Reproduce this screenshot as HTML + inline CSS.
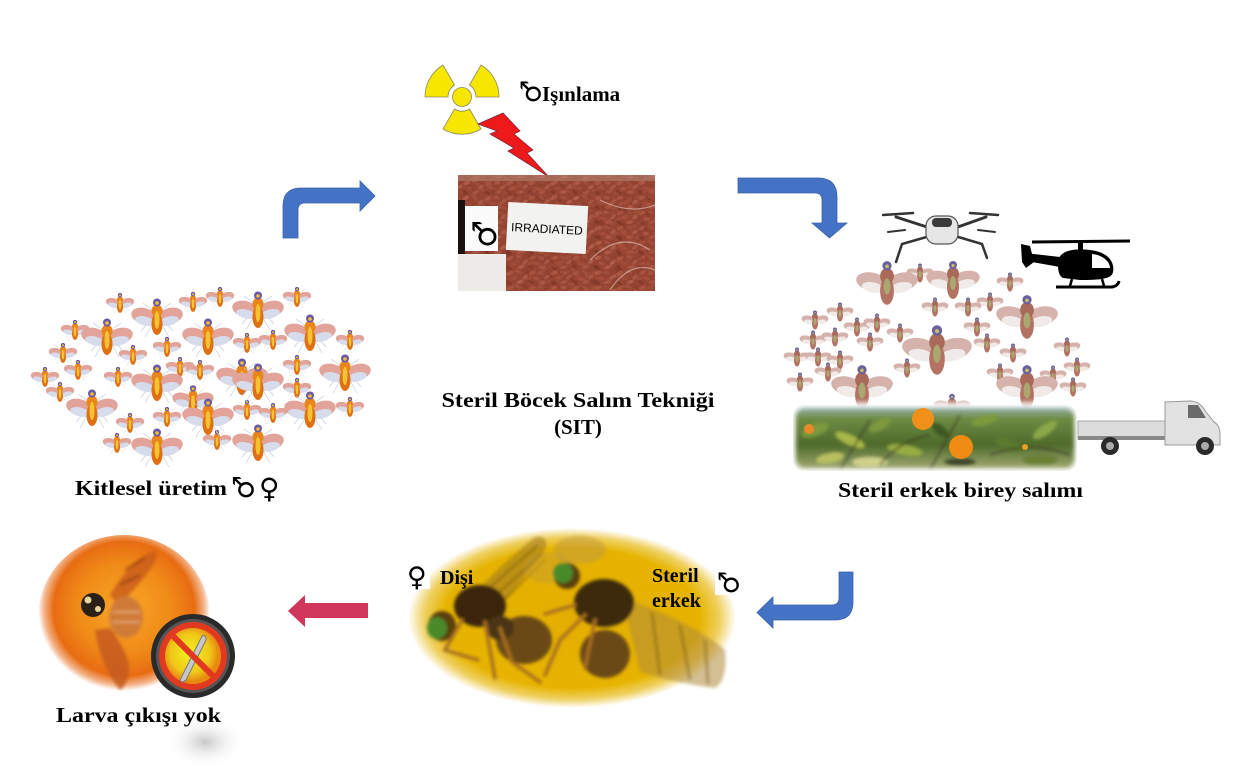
<!DOCTYPE html>
<html><head><meta charset="utf-8"><style>
html,body{margin:0;padding:0;background:#fff;}
svg{display:block;}
text{font-family:"Liberation Serif",serif;font-weight:bold;fill:#000;}
.sym{font-family:"DejaVu Sans",sans-serif;font-weight:normal;}
</style></head><body>
<svg width="1240" height="784" viewBox="0 0 1240 784" xmlns="http://www.w3.org/2000/svg">
<defs>
  <g id="flyA">
    <g stroke="#b8c8e0" stroke-width="0.6" fill="none">
      <path d="M-4,0 L-16,14 M4,0 L16,14 M-4,6 L-12,20 M4,6 L12,20 M-3,-6 L-14,-14 M3,-6 L14,-14"/>
    </g>
    <ellipse cx="-13" cy="-1" rx="13" ry="8" transform="rotate(14 -13 -1)" fill="#e2a49a"/>
    <ellipse cx="-12" cy="4" rx="10" ry="4.5" transform="rotate(14 -12 4)" fill="#d6dcec"/>
    <ellipse cx="13" cy="-1" rx="13" ry="8" transform="rotate(-14 13 -1)" fill="#e2a49a"/>
    <ellipse cx="12" cy="4" rx="10" ry="4.5" transform="rotate(-14 12 4)" fill="#d6dcec"/>
    <ellipse cx="0" cy="7" rx="5.5" ry="11" fill="#df7014"/>
    <ellipse cx="0" cy="-6" rx="5.5" ry="6.5" fill="#e8861c"/>
    <ellipse cx="0" cy="3" rx="2.5" ry="9" fill="#f4c232"/>
    <circle cx="0" cy="-14.5" r="4" fill="#6a58a8"/>
    <circle cx="0" cy="-14" r="1.8" fill="#f0c030"/>
  </g>
  <g id="flyB">
    <ellipse cx="-13" cy="-1" rx="14" ry="8" transform="rotate(12 -13 -1)" fill="#d6b2ac"/>
    <ellipse cx="-12" cy="4" rx="10" ry="4.5" transform="rotate(12 -12 4)" fill="#f0eae8"/>
    <ellipse cx="13" cy="-1" rx="14" ry="8" transform="rotate(-12 13 -1)" fill="#d6b2ac"/>
    <ellipse cx="12" cy="4" rx="10" ry="4.5" transform="rotate(-12 12 4)" fill="#f0eae8"/>
    <ellipse cx="0" cy="7" rx="6" ry="12" fill="#b47262"/>
    <ellipse cx="0" cy="-6" rx="6" ry="7" fill="#aa6a5a"/>
    <ellipse cx="0" cy="3" rx="3" ry="7" fill="#a8a870"/>
    <circle cx="0" cy="-15" r="4" fill="#6a60a0"/>
    <circle cx="0" cy="-14.5" r="1.6" fill="#c8c060"/>
  </g>
  <pattern id="beans" width="22" height="15" patternUnits="userSpaceOnUse">
    <rect width="22" height="15" fill="#93432f"/>
    <ellipse cx="4" cy="3" rx="3.6" ry="1.8" transform="rotate(-20 4 3)" fill="#b25c48"/>
    <ellipse cx="13" cy="2.5" rx="3.4" ry="1.7" transform="rotate(25 13 2.5)" fill="#a25040"/>
    <ellipse cx="19" cy="7" rx="3.4" ry="1.7" transform="rotate(-40 19 7)" fill="#b46050"/>
    <ellipse cx="8" cy="8.5" rx="3.6" ry="1.8" transform="rotate(15 8 8.5)" fill="#a84e3e"/>
    <ellipse cx="3" cy="12.5" rx="3.2" ry="1.6" transform="rotate(35 3 12.5)" fill="#7c3224"/>
    <ellipse cx="14" cy="12" rx="3.6" ry="1.8" transform="rotate(-10 14 12)" fill="#b05a48"/>
  </pattern>
  <pattern id="beans2" href="#beans" patternTransform="translate(7 5) rotate(8)"/>
  <radialGradient id="yel" cx="0.5" cy="0.5" r="0.5">
    <stop offset="0" stop-color="#e4ae00"/>
    <stop offset="0.78" stop-color="#e6b400"/>
    <stop offset="0.9" stop-color="#efd060"/>
    <stop offset="1" stop-color="#ffffff"/>
  </radialGradient>
  <radialGradient id="org" cx="0.5" cy="0.45" r="0.5">
    <stop offset="0" stop-color="#f8a826"/>
    <stop offset="0.55" stop-color="#f08a18"/>
    <stop offset="0.82" stop-color="#e86c12"/>
    <stop offset="0.93" stop-color="#f4b48a"/>
    <stop offset="1" stop-color="#ffffff"/>
  </radialGradient>
  <radialGradient id="nosign" cx="0.45" cy="0.45" r="0.5">
    <stop offset="0" stop-color="#f4f020"/>
    <stop offset="0.7" stop-color="#f0c818"/>
    <stop offset="1" stop-color="#e88a10"/>
  </radialGradient>
  <radialGradient id="shadow" cx="0.5" cy="0.5" r="0.5">
    <stop offset="0" stop-color="#c8c8c8"/>
    <stop offset="1" stop-color="#ffffff" stop-opacity="0"/>
  </radialGradient>
  <linearGradient id="tree" x1="0" y1="0" x2="0" y2="1">
    <stop offset="0" stop-color="#a0bcc8"/>
    <stop offset="0.2" stop-color="#6e8c44"/>
    <stop offset="0.6" stop-color="#4e6a2a"/>
    <stop offset="1" stop-color="#a8b07a"/>
  </linearGradient>
  <filter id="soft" x="-10%" y="-10%" width="120%" height="120%"><feGaussianBlur stdDeviation="1.5"/></filter>
  <filter id="soft2" x="-10%" y="-10%" width="120%" height="120%"><feGaussianBlur stdDeviation="2.5"/></filter>
  <clipPath id="treeclip"><rect x="793" y="405" width="284" height="66" rx="12"/></clipPath>
</defs>

<rect width="1240" height="784" fill="#fff"/>

<!-- ===== Blue arrows ===== -->
<path d="M283,238 L283,206 Q283,188 301,188 L360,188 L360,181 L375,196 L360,211 L360,203 L305,203 Q298,203 298,210 L298,238 Z" fill="#4472c4" stroke="#3a62aa" stroke-width="0.8"/>
<path d="M738,178 L818,178 Q837,178 837,197 L837,223 L847,223 L829.5,238 L812,223 L822,223 L822,200 Q822,193 815,193 L738,193 Z" fill="#4472c4" stroke="#3a62aa" stroke-width="0.8"/>
<path d="M853,572 L853,602 Q853,620 835,620 L773,620 L773,628 L757,612.5 L773,597 L773,605 L832,605 Q839,605 839,598 L839,572 Z" fill="#4472c4" stroke="#3a62aa" stroke-width="0.8"/>
<path d="M368,603 L305,603 L305,595 L288,611 L305,627 L305,618 L368,618 Z" fill="#d0365a"/>

<!-- ===== Radiation & bolt ===== -->
<g fill="#f6e600" stroke="#8a8a60" stroke-width="0.8">
  <path d="M469.5,85 L481,65 A37,37 0 0 1 499,97 L476,97 A14,14 0 0 0 469.5,85 Z"/>
  <path d="M454.5,85 L443,65 A37,37 0 0 0 425,97 L448,97 A14,14 0 0 1 454.5,85 Z"/>
  <path d="M469.5,109 L481,129 A37,37 0 0 1 443,129 L454.5,109 A14,14 0 0 0 469.5,109 Z"/>
  <circle cx="462" cy="97" r="9.5"/>
</g>
<polygon points="478,124 503,113 520,131 514,134 533,150 527,153 549,177 508,151 514,148 490,134 497,131" fill="#ee1a1a" stroke="#7a2a40" stroke-width="0.8"/>
<text x="542" y="101" font-size="21">Işınlama</text>
<text class="sym" transform="translate(543,101) scale(-1,1)" font-size="27">♂</text>

<!-- ===== Bag photo ===== -->
<rect x="458" y="175" width="197" height="116" fill="url(#beans)"/>
<rect x="458" y="175" width="197" height="116" fill="url(#beans2)" opacity="0.35"/>
<rect x="458" y="175" width="197" height="6" fill="#b88474" opacity="0.6"/>
<path d="M600,200 Q630,215 655,205 M590,260 Q620,230 650,250 M610,290 Q630,260 655,270" stroke="#e8d0c8" stroke-width="1.2" fill="none" opacity="0.6"/>
<rect x="458" y="200" width="7" height="54" fill="#1a1210"/>
<rect x="458" y="254" width="48" height="37" fill="#ecebe8"/>
<rect x="465" y="206" width="33" height="45" fill="#fbfbfb"/>
<text class="sym" transform="translate(499,245) scale(-1,1)" font-size="32">♂</text>
<g transform="rotate(3 547 228)">
  <rect x="507" y="204" width="80" height="48" fill="#f2f2f0"/>
  <text x="547" y="233" font-size="12" text-anchor="middle" style="font-family:'Liberation Sans',sans-serif;font-weight:normal;">IRRADIATED</text>
</g>

<!-- ===== Left cluster ===== -->
<g>
  <use href="#flyA" transform="translate(120,303) scale(0.55)"/>
  <use href="#flyA" transform="translate(193,302) scale(0.55)"/>
  <use href="#flyA" transform="translate(220,297) scale(0.55)"/>
  <use href="#flyA" transform="translate(297,297) scale(0.55)"/>
  <use href="#flyA" transform="translate(75,330) scale(0.55)"/>
  <use href="#flyA" transform="translate(63,353) scale(0.55)"/>
  <use href="#flyA" transform="translate(133,355) scale(0.55)"/>
  <use href="#flyA" transform="translate(167,347) scale(0.55)"/>
  <use href="#flyA" transform="translate(247,343) scale(0.55)"/>
  <use href="#flyA" transform="translate(273,340) scale(0.55)"/>
  <use href="#flyA" transform="translate(350,340) scale(0.55)"/>
  <use href="#flyA" transform="translate(45,377) scale(0.55)"/>
  <use href="#flyA" transform="translate(78,370) scale(0.55)"/>
  <use href="#flyA" transform="translate(118,377) scale(0.55)"/>
  <use href="#flyA" transform="translate(180,367) scale(0.55)"/>
  <use href="#flyA" transform="translate(200,370) scale(0.55)"/>
  <use href="#flyA" transform="translate(297,365) scale(0.55)"/>
  <use href="#flyA" transform="translate(60,392) scale(0.55)"/>
  <use href="#flyA" transform="translate(297,388) scale(0.55)"/>
  <use href="#flyA" transform="translate(350,407) scale(0.55)"/>
  <use href="#flyA" transform="translate(130,423) scale(0.55)"/>
  <use href="#flyA" transform="translate(167,417) scale(0.55)"/>
  <use href="#flyA" transform="translate(247,410) scale(0.55)"/>
  <use href="#flyA" transform="translate(273,413) scale(0.55)"/>
  <use href="#flyA" transform="translate(117,443) scale(0.55)"/>
  <use href="#flyA" transform="translate(217,440) scale(0.55)"/>
  <use href="#flyA" transform="translate(193,400) scale(0.8)"/>
  <use href="#flyA" transform="translate(157,317)"/>
  <use href="#flyA" transform="translate(107,337)"/>
  <use href="#flyA" transform="translate(208,337)"/>
  <use href="#flyA" transform="translate(258,310)"/>
  <use href="#flyA" transform="translate(310,333)"/>
  <use href="#flyA" transform="translate(157,383)"/>
  <use href="#flyA" transform="translate(242,377)"/>
  <use href="#flyA" transform="translate(258,382)"/>
  <use href="#flyA" transform="translate(345,373)"/>
  <use href="#flyA" transform="translate(92,408)"/>
  <use href="#flyA" transform="translate(208,417)"/>
  <use href="#flyA" transform="translate(310,410)"/>
  <use href="#flyA" transform="translate(157,447)"/>
  <use href="#flyA" transform="translate(258,443)"/>
</g>
<text x="75" y="495" font-size="21" textLength="152" lengthAdjust="spacingAndGlyphs">Kitlesel üretim</text>
<text class="sym" transform="translate(256,497) scale(-1,1)" font-size="28">♂</text>
<text class="sym" x="259" y="498" font-size="28">♀</text>

<!-- ===== Center title ===== -->
<text x="578" y="407" font-size="21" text-anchor="middle" textLength="273" lengthAdjust="spacingAndGlyphs">Steril Böcek Salım Tekniği</text>
<text x="578" y="434" font-size="21" text-anchor="middle">(SIT)</text>

<!-- ===== Drone ===== -->
<g stroke="#333" stroke-linecap="round">
  <line x1="930" y1="228" x2="896" y2="217" stroke-width="3"/>
  <line x1="955" y1="228" x2="986" y2="217" stroke-width="3"/>
  <line x1="883" y1="215" x2="913" y2="213" stroke-width="2.5"/>
  <line x1="970" y1="213" x2="998" y2="215" stroke-width="2.5"/>
  <polyline points="930,236 902,244 896,262" fill="none" stroke-width="2.5"/>
  <polyline points="955,236 982,244 987,258" fill="none" stroke-width="2.5"/>
  <line x1="888" y1="232" x2="905" y2="230" stroke-width="2"/>
  <line x1="978" y1="230" x2="995" y2="232" stroke-width="2"/>
</g>
<rect x="926" y="216" width="32" height="28" rx="10" fill="#e6e6e6" stroke="#555" stroke-width="1.2"/>
<rect x="932" y="218" width="20" height="9" rx="4" fill="#3a3a3a"/>

<!-- ===== Helicopter ===== -->
<g fill="#000" stroke="#000">
  <line x1="1032" y1="242" x2="1130" y2="241" stroke-width="3"/>
  <rect x="1078" y="241" width="5" height="10" stroke="none"/>
  <path d="M1058,263 C1058,250 1075,248 1090,250 C1108,252 1115,262 1113,272 C1112,279 1100,280 1080,280 L1063,278 C1058,275 1058,269 1058,263 Z" stroke="none"/>
  <polygon points="1025,253 1060,257 1060,267 1032,262" stroke="none"/>
  <polygon points="1021,244 1030,246 1034,262 1026,268 1022,262" stroke="none"/>
  <line x1="1072" y1="279" x2="1070" y2="286" stroke-width="2.5"/>
  <line x1="1102" y1="279" x2="1104" y2="286" stroke-width="2.5"/>
  <path d="M1056,287 L1112,287 Q1118,286 1119,281" fill="none" stroke-width="3"/>
</g>
<path d="M1092,254 C1103,255 1110,262 1110,268 L1092,268 Z" fill="#fff"/>

<!-- ===== Right cluster ===== -->
<g>
  <use href="#flyB" transform="translate(920,273) scale(0.5)"/>
  <use href="#flyB" transform="translate(1010,282) scale(0.5)"/>
  <use href="#flyB" transform="translate(990,302) scale(0.5)"/>
  <use href="#flyB" transform="translate(968,307) scale(0.5)"/>
  <use href="#flyB" transform="translate(935,307) scale(0.5)"/>
  <use href="#flyB" transform="translate(840,312) scale(0.5)"/>
  <use href="#flyB" transform="translate(815,320) scale(0.5)"/>
  <use href="#flyB" transform="translate(857,327) scale(0.5)"/>
  <use href="#flyB" transform="translate(877,323) scale(0.5)"/>
  <use href="#flyB" transform="translate(900,333) scale(0.5)"/>
  <use href="#flyB" transform="translate(977,327) scale(0.5)"/>
  <use href="#flyB" transform="translate(813,340) scale(0.5)"/>
  <use href="#flyB" transform="translate(835,337) scale(0.5)"/>
  <use href="#flyB" transform="translate(870,342) scale(0.5)"/>
  <use href="#flyB" transform="translate(987,343) scale(0.5)"/>
  <use href="#flyB" transform="translate(1013,353) scale(0.5)"/>
  <use href="#flyB" transform="translate(1067,347) scale(0.5)"/>
  <use href="#flyB" transform="translate(797,357) scale(0.5)"/>
  <use href="#flyB" transform="translate(818,357) scale(0.5)"/>
  <use href="#flyB" transform="translate(840,360) scale(0.5)"/>
  <use href="#flyB" transform="translate(1000,373) scale(0.5)"/>
  <use href="#flyB" transform="translate(1053,375) scale(0.5)"/>
  <use href="#flyB" transform="translate(1077,367) scale(0.5)"/>
  <use href="#flyB" transform="translate(828,372) scale(0.5)"/>
  <use href="#flyB" transform="translate(800,382) scale(0.5)"/>
  <use href="#flyB" transform="translate(1073,387) scale(0.5)"/>
  <use href="#flyB" transform="translate(907,368) scale(0.5)"/>
  <use href="#flyB" transform="translate(887,283) scale(1.15)"/>
  <use href="#flyB" transform="translate(953,280) scale(1.0)"/>
  <use href="#flyB" transform="translate(1027,317) scale(1.15)"/>
  <use href="#flyB" transform="translate(937,350) scale(1.3)"/>
  <use href="#flyB" transform="translate(862,387) scale(1.15)"/>
  <use href="#flyB" transform="translate(1027,387) scale(1.15)"/>
  <use href="#flyB" transform="translate(952,407) scale(0.7)"/>
</g>

<!-- ===== Tree band ===== -->
<g clip-path="url(#treeclip)" filter="url(#soft)">
  <rect x="793" y="405" width="284" height="66" fill="url(#tree)"/>
  <g fill="#7c9a3e">
    <ellipse cx="815" cy="430" rx="14" ry="6" transform="rotate(-20 815 430)"/>
    <ellipse cx="850" cy="440" rx="16" ry="5" transform="rotate(25 850 440)" fill="#a8b84a"/>
    <ellipse cx="880" cy="425" rx="12" ry="5" transform="rotate(-30 880 425)"/>
    <ellipse cx="905" cy="450" rx="18" ry="5" transform="rotate(10 905 450)" fill="#94ac42"/>
    <ellipse cx="940" cy="430" rx="10" ry="5" transform="rotate(40 940 430)" fill="#3e5a22"/>
    <ellipse cx="985" cy="420" rx="14" ry="5" transform="rotate(-15 985 420)"/>
    <ellipse cx="1010" cy="445" rx="16" ry="5" transform="rotate(20 1010 445)" fill="#5a7a2e"/>
    <ellipse cx="1045" cy="430" rx="14" ry="5" transform="rotate(-35 1045 430)" fill="#8aa848"/>
    <ellipse cx="830" cy="458" rx="14" ry="5" transform="rotate(-10 830 458)" fill="#b8c060"/>
    <ellipse cx="870" cy="462" rx="18" ry="5" fill="#cfd08a"/>
    <ellipse cx="960" cy="462" rx="16" ry="4" fill="#404a2a"/>
    <ellipse cx="1040" cy="460" rx="18" ry="5" fill="#6a8036"/>
  </g>
  <g stroke="#3a3020" stroke-width="1.5" fill="none">
    <path d="M840,470 L870,420 M930,470 L960,415 M990,455 Q1030,440 1070,455 M880,465 Q900,440 930,435"/>
  </g>
</g>
<rect x="793" y="405" width="284" height="66" rx="12" fill="none" stroke="#fff" stroke-width="5" filter="url(#soft2)"/>
<circle cx="923" cy="419" r="11" fill="#f0901a"/>
<circle cx="961" cy="447" r="12" fill="#f08c14"/>
<circle cx="809" cy="429" r="5" fill="#e88a2a"/>
<circle cx="1025" cy="447" r="3" fill="#e8a020"/>

<!-- ===== Truck ===== -->
<rect x="1078" y="421" width="88" height="18" fill="#dcdcdc" stroke="#a8a8a8" stroke-width="1"/>
<rect x="1078" y="436" width="88" height="4" fill="#888"/>
<path d="M1165,402 L1190,401 Q1200,401 1206,412 L1214,422 Q1220,425 1220,435 L1220,445 L1165,445 Z" fill="#e2e2e2" stroke="#999" stroke-width="1"/>
<path d="M1188,405 L1198,405 L1206,418 L1188,418 Z" fill="#6a6a6a"/>
<circle cx="1110" cy="446" r="9" fill="#2a2a2a"/>
<circle cx="1110" cy="446" r="4" fill="#aaa"/>
<circle cx="1205" cy="446" r="9" fill="#2a2a2a"/>
<circle cx="1205" cy="446" r="4" fill="#aaa"/>
<text x="838" y="497" font-size="21" textLength="245" lengthAdjust="spacingAndGlyphs">Steril erkek birey salımı</text>

<!-- ===== Yellow mating ellipse ===== -->
<ellipse cx="572" cy="618" rx="164" ry="90" fill="url(#yel)"/>
<g filter="url(#soft)">
  <path d="M468,600 Q500,565 535,537 Q548,535 546,548 Q520,585 492,615 Z" fill="#9a7420" opacity="0.55"/>
  <path d="M480,596 L538,545 M487,603 L543,553 M495,609 L545,560" stroke="#4a3410" stroke-width="1.2" opacity="0.6"/>
  <ellipse cx="548" cy="568" rx="24" ry="16" fill="#c09838" opacity="0.45"/>
  <ellipse cx="480" cy="606" rx="26" ry="21" fill="#3a2810"/>
  <ellipse cx="524" cy="640" rx="28" ry="24" fill="#6a4a18"/>
  <ellipse cx="500" cy="628" rx="14" ry="12" fill="#4a3412"/>
  <ellipse cx="442" cy="626" rx="14" ry="15" fill="#5a4010"/>
  <ellipse cx="437" cy="628" rx="10" ry="11" fill="#4a8a2c"/>
  <g stroke="#a86e20" stroke-width="3.5" fill="none" stroke-linecap="round">
    <path d="M462,620 L445,650 L478,660"/>
    <path d="M485,622 L495,678"/>
    <path d="M500,628 L512,662 L540,682"/>
  </g>
  <ellipse cx="580" cy="550" rx="26" ry="14" fill="#c09840" opacity="0.5"/>
  <path d="M622,598 Q690,620 725,650 Q728,680 715,688 Q670,682 640,672 Z" fill="#b08a38" opacity="0.55"/>
  <path d="M652,612 L660,675 M680,625 L690,680 M705,640 L708,684" stroke="#5a4010" stroke-width="3" opacity="0.35"/>
  <ellipse cx="604" cy="603" rx="30" ry="24" fill="#3c2a10"/>
  <ellipse cx="605" cy="654" rx="25" ry="24" fill="#6a4818"/>
  <ellipse cx="567" cy="576" rx="13" ry="13" fill="#5a4010"/>
  <ellipse cx="563" cy="573" rx="10" ry="10" fill="#4a8a2c"/>
  <g stroke="#a86e20" stroke-width="3.5" fill="none" stroke-linecap="round">
    <path d="M585,615 L560,640 L545,675"/>
    <path d="M595,620 L585,668"/>
    <path d="M575,605 L545,614"/>
  </g>
</g>
<rect x="408" y="562" width="22" height="27" fill="#fff"/>
<text class="sym" x="407" y="586" font-size="27">♀</text>
<text x="440" y="584" font-size="20">Dişi</text>
<text x="652" y="582" font-size="20">Steril</text>
<text x="652" y="607" font-size="20">erkek</text>
<rect x="715" y="568" width="25" height="27" fill="#fff"/>
<text class="sym" transform="translate(741,592) scale(-1,1)" font-size="27">♂</text>

<!-- ===== Bottom-left orange circle ===== -->
<ellipse cx="205" cy="742" rx="40" ry="26" fill="url(#shadow)"/>
<ellipse cx="124" cy="617" rx="86" ry="82" fill="url(#org)"/>
<g filter="url(#soft)">
  <path d="M110,595 Q130,560 155,550 Q160,556 150,570 Q135,590 118,605 Z" fill="#c85a18" opacity="0.8"/>
  <path d="M125,570 L145,558 M120,585 L140,575" stroke="#7a3010" stroke-width="2" opacity="0.7"/>
  <path d="M95,630 Q100,665 120,690 Q132,680 128,660 Q120,640 110,628 Z" fill="#c45a1c" opacity="0.85"/>
  <ellipse cx="126" cy="617" rx="17" ry="21" fill="#d07a38"/>
  <path d="M112,612 L140,612 M112,622 L140,622" stroke="#f0c090" stroke-width="1.5" opacity="0.8"/>
</g>
<circle cx="93" cy="605" r="12" fill="#2a2018"/>
<circle cx="88" cy="600" r="3.5" fill="#e8d8a0"/>
<circle cx="98" cy="609" r="3" fill="#e8d8a0"/>
<circle cx="193" cy="656" r="42" fill="#2a2a2a"/>
<circle cx="193" cy="656" r="37" fill="#555"/>
<circle cx="193" cy="656" r="34" fill="#e23a20"/>
<circle cx="193" cy="656" r="28" fill="url(#nosign)"/>
<path d="M202,636 Q206,634 206,640 L186,680 Q182,684 180,680 Z" fill="#c8c8c8" stroke="#777" stroke-width="1"/>
<line x1="172" y1="635" x2="214" y2="677" stroke="#e23a20" stroke-width="6"/>
<text x="56" y="722" font-size="21" textLength="165" lengthAdjust="spacingAndGlyphs">Larva çıkışı yok</text>
</svg>
</body></html>
